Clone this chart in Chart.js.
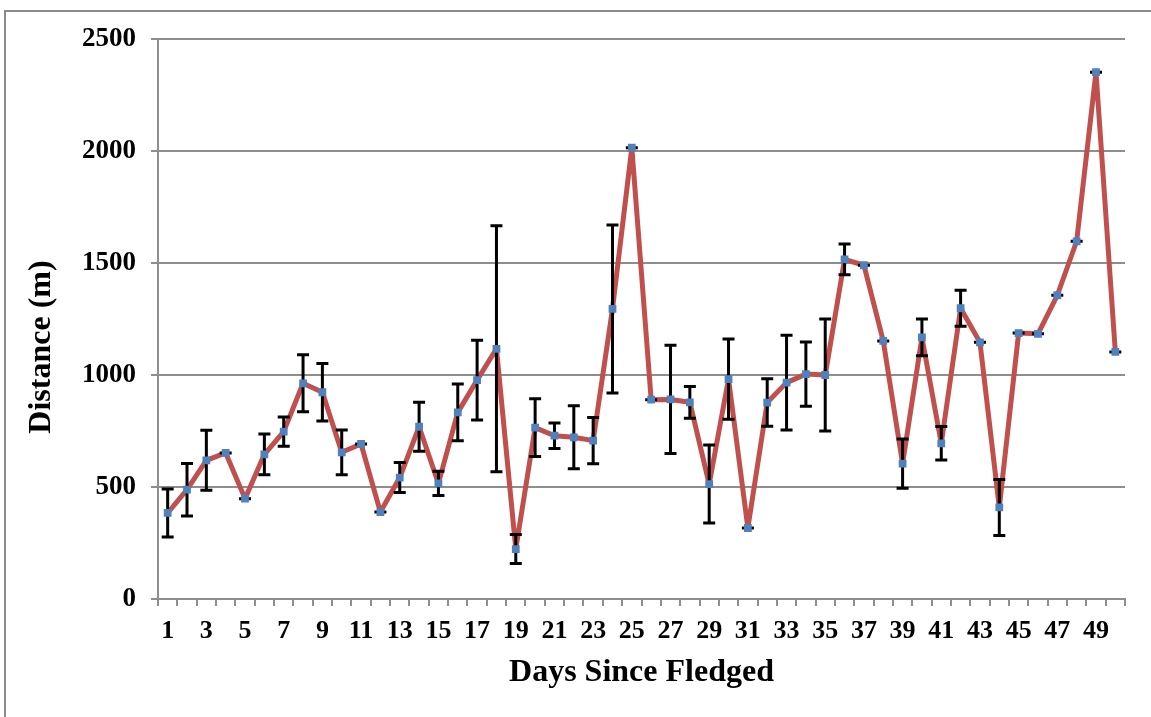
<!DOCTYPE html>
<html>
<head>
<meta charset="utf-8">
<script src="https://cdn.jsdelivr.net/npm/chart.js@4.4.0/dist/chart.umd.min.js"></script>
<style>
    body { margin: 0; background: #fff; }
    .wrap { position: relative; width: 1151px; height: 717px; overflow: hidden; }
    .frame { position: absolute; left: 4px; top: 10px; width: 1200px; height: 800px; border-left: 2px solid #8a8a8a; border-top: 2px solid #8a8a8a; }
    canvas { position: absolute; left: 0; top: 0; }
</style>
</head>
<body>
<div class="wrap">
    <div class="frame"></div>
    <canvas id="chart" width="1151" height="717"></canvas>
</div>
<script>
// Days since fledged (categories)
const days = [];
for (let d = 1; d <= 50; d++) days.push(String(d));

// Mean distance (m) per day
const meanDist = [
    384, 488, 619, 652, 448, 646, 747, 963, 923, 655,
    692, 388, 542, 769, 516, 833, 977, 1117, 223, 765,
    729, 722, 707, 1295, 2015, 890, 891, 878, 513, 982,
    317, 877, 966, 1004, 1000, 1516, 1490, 1152, 604, 1168,
    695, 1298, 1146, 409, 1187, 1184, 1356, 1597, 2352, 1103
];

// Error bar half-lengths (m)
const errDist = [
    107, 117, 134, 0, 0, 91, 65, 127, 128, 100,
    0, 0, 67, 109, 54, 127, 178, 549, 65, 129,
    57, 141, 103, 375, 0, 0, 242, 71, 174, 179,
    0, 106, 211, 143, 250, 69, 0, 0, 110, 82,
    75, 80, 0, 125, 0, 0, 0, 0, 0, 0
];

const yTicks = [0, 500, 1000, 1500, 2000, 2500];

const serif = '"Liberation Serif", "Times New Roman", serif';
const gridColor = '#8e8e8e';

// Draw error bars right after the red line, before the markers
const errorBars = {
    id: 'errorBars',
    afterDatasetDraw(chart, args) {
        if (args.index !== 1) return;
        const ctx = chart.ctx;
        const y = chart.scales.y;
        const pts = args.meta.data;
        ctx.save();
        ctx.strokeStyle = '#000';
        ctx.lineWidth = 3;
        pts.forEach((pt, i) => {
            const top = y.getPixelForValue(meanDist[i] + errDist[i]);
            const bot = y.getPixelForValue(meanDist[i] - errDist[i]);
            ctx.beginPath();
            ctx.moveTo(pt.x, top);
            ctx.lineTo(pt.x, bot);
            ctx.moveTo(pt.x - 6, top);
            ctx.lineTo(pt.x + 6, top);
            ctx.moveTo(pt.x - 6, bot);
            ctx.lineTo(pt.x + 6, bot);
            ctx.stroke();
        });
        ctx.restore();
    }
};

new Chart(document.getElementById('chart'), {
    type: 'line',
    data: {
        labels: days,
        datasets: [{
            // markers on top
            data: meanDist,
            showLine: false,
            pointStyle: 'rect',
            pointRadius: 5.5,
            pointBorderWidth: 0,
            pointBackgroundColor: '#4F81BD',
            pointBorderColor: '#4F81BD'
        }, {
            data: meanDist,
            borderColor: '#C0504D',
            borderWidth: 5,
            borderJoinStyle: 'round',
            borderCapStyle: 'round',
            tension: 0,
            pointRadius: 0,
            fill: false
        }]
    },
    options: {
        responsive: false,
        animation: false,
        layout: { padding: { top: 39, right: 26, bottom: 0, left: 0 } },
        plugins: {
            legend: { display: false },
            tooltip: { enabled: false }
        },
        scales: {
            x: {
                offset: true,
                grid: {
                    offset: true,
                    drawOnChartArea: false,
                    drawTicks: true,
                    tickLength: 7,
                    color: gridColor,
                    lineWidth: 2
                },
                border: { color: gridColor, width: 2 },
                ticks: {
                    autoSkip: false,
                    maxRotation: 0,
                    padding: 10,
                    color: '#000',
                    font: { family: serif, size: 26, weight: 'bold' },
                    callback: (v, i) => (i % 2 === 0 ? days[i] : '')
                },
                title: {
                    display: true,
                    text: 'Days Since Fledged',
                    color: '#000',
                    font: { family: serif, size: 32, weight: 'bold' },
                    padding: { top: 0, bottom: 25 }
                },
                afterFit: (scale) => { scale.height = 118; }
            },
            y: {
                min: 0,
                max: 2500,
                afterBuildTicks: (scale) => { scale.ticks = yTicks.map(v => ({ value: v })); },
                grid: {
                    color: gridColor,
                    lineWidth: 2,
                    tickLength: 7
                },
                border: { color: gridColor, width: 2 },
                ticks: {
                    padding: 15,
                    color: '#000',
                    font: { family: serif, size: 27, weight: 'bold' },
                    callback: (v) => String(v)
                },
                title: {
                    display: true,
                    text: 'Distance (m)' + '\u00A0'.repeat(7),
                    color: '#000',
                    font: { family: serif, size: 32, weight: 'bold' },
                    padding: { top: 23, bottom: 0 }
                },
                afterFit: (scale) => { scale.width = 158; }
            }
        }
    },
    plugins: [errorBars]
});
</script>
</body>
</html>
